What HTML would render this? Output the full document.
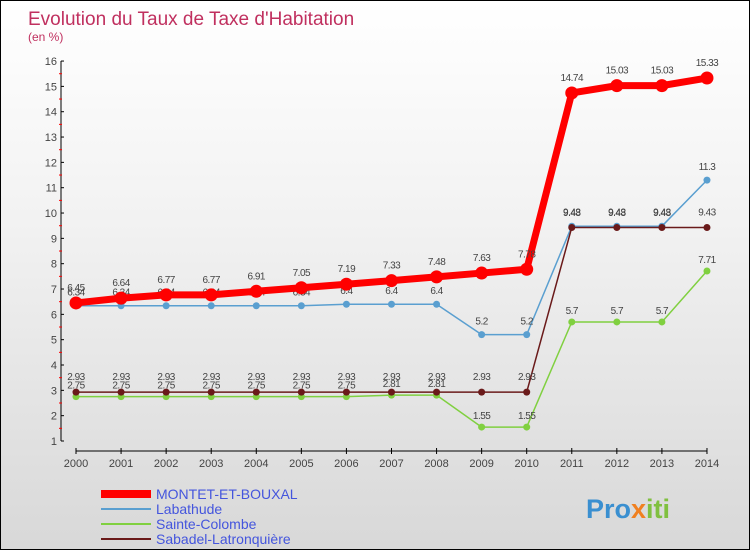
<!DOCTYPE html>
<html><head><meta charset="utf-8"><style>
body{margin:0;}
#c{width:750px;height:550px;position:relative;box-sizing:border-box;border:1px solid #000;background:linear-gradient(#fff 0%,#f2f2f2 40%,#d8d8d8 100%);font-family:"Liberation Sans",sans-serif;overflow:hidden}
</style></head><body>
<div id="c">
<svg id="s" width="750" height="550" style="position:absolute;left:0;top:0"></svg>
</div>
<script>
const years=[2000,2001,2002,2003,2004,2005,2006,2007,2008,2009,2010,2011,2012,2013,2014];
const montet=[6.45,6.64,6.77,6.77,6.91,7.05,7.19,7.33,7.48,7.63,7.78,14.74,15.03,15.03,15.33];
const labathude=[6.34,6.34,6.34,6.34,6.34,6.34,6.4,6.4,6.4,5.2,5.2,9.48,9.48,9.48,11.3];
const sainte=[2.75,2.75,2.75,2.75,2.75,2.75,2.75,2.81,2.81,1.55,1.55,5.7,5.7,5.7,7.71];
const sabadel=[2.93,2.93,2.93,2.93,2.93,2.93,2.93,2.93,2.93,2.93,2.93,9.43,9.43,9.43,9.43];
const yTicks=[1,2,3,4,5,6,7,8,9,10,11,12,13,14,15,16];
const names=["MONTET-ET-BOUXAL","Labathude","Sainte-Colombe","Sabadel-Latronquière"];
const X=i=>75+i*45.07;
const Y=v=>440-(v-1)*25.33;
const s=document.getElementById('s');
const NS="http://www.w3.org/2000/svg";
function mk(t,a,txt){const e=document.createElementNS(NS,t);for(const k in a)e.setAttribute(k,a[k]);if(txt!==undefined)e.textContent=txt;s.appendChild(e);return e;}
let e;
e=mk('text',{x:27,y:24,'font-size':19,fill:'#c0305f','font-weight':'normal'},"Evolution du Taux de Taxe d'Habitation");


e=mk('text',{x:27,y:40,'font-size':12,fill:'#c0305f'},"(en %)");


e=mk('line',{x1:60,y1:Y(16),x2:60,y2:Y(1),stroke:'#000'});


yTicks.forEach(v=>{
 mk('line',{x1:60,y1:Y(v),x2:63,y2:Y(v),stroke:'#000'});
 if(v<16){mk('line',{x1:58,y1:Y(v+0.5),x2:61,y2:Y(v+0.5),stroke:'#f00'});}
 e=mk('text',{x:56,y:Y(v)+4,'font-size':11,fill:'#444','text-anchor':'end'},v);
 
 
});
e=mk('line',{x1:X(0),y1:450,x2:X(14),y2:450,stroke:'#000'});


years.forEach((y,i)=>{
 mk('line',{x1:X(i),y1:447,x2:X(i),y2:453,stroke:'#000'});
 e=mk('text',{x:X(i),y:466,'font-size':11,fill:'#444','text-anchor':'middle'},y);
 
 
});
function series(d,color,w,r,name,labelDy){
 e=mk('polyline',{points:d.map((v,i)=>X(i)+','+Y(v)).join(' '),fill:'none',stroke:color,'stroke-width':w});
 
 
 d.forEach((v,i)=>{
  e=mk('circle',{cx:X(i),cy:Y(v),r:r,fill:color});
  
  
  e=mk('text',{x:X(i),y:Y(v)+labelDy,'font-size':10,fill:'#444','text-anchor':'middle','letter-spacing':'-0.5'},String(v));
  
  
 });
}
series(sainte,'#80d040',1.5,3.5,'sainte-colombe',-8);
series(labathude,'#5a9fd0',1.5,3.5,'labathude',-10);
series(sabadel,'#6a1a1a',1.5,3.5,'sabadel',-12);
series(montet,'#f00',7,6.5,'montet',-12);
const lc=['#f00','#5a9fd0','#80d040','#6a1a1a'],lw=[8,2,2,2];
names.forEach((n,i)=>{
 const y=493+i*15;
 e=mk('line',{x1:100,y1:y,x2:150,y2:y,stroke:lc[i],'stroke-width':lw[i]});
 
 
 e=mk('text',{x:155,y:y+5,'font-size':14,fill:'#4455dd'},n);
 
 
});
e=mk('text',{x:585,y:517,'font-size':27,'font-weight':'bold',fill:'#3a8fd0'});


e.innerHTML='Pro<tspan fill="#f08020">x</tspan><tspan fill="#80c040">iti</tspan>';
</script>
</body></html>
